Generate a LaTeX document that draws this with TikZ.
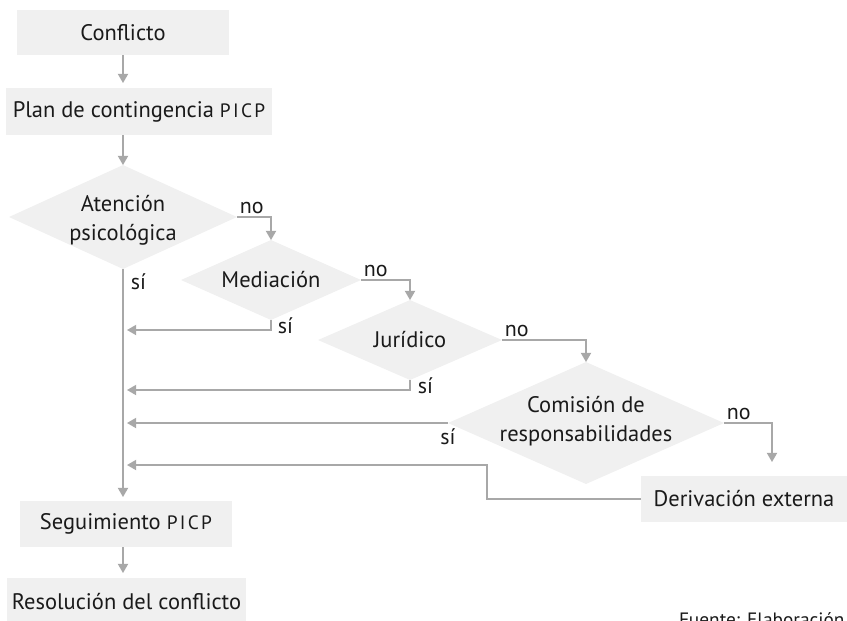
\documentclass[tikz,border=0pt]{standalone}
\usepackage{fontspec}
\setmainfont{PT Sans}
\newfontfamily\capsfont[LetterSpace=12]{PT Sans}
\usepackage{xcolor}
\usepackage{tikz}
\usetikzlibrary{calc,arrows.meta,shapes.geometric}
\definecolor{boxfill}{HTML}{F0F0F0}
\definecolor{linegray}{HTML}{A8A8A8}
\definecolor{inkblack}{HTML}{1A1A1A}
\newcommand{\picp}{{\capsfont\fontsize{11}{12}\selectfont PICP}}
\tikzset{stage/.style={fill=boxfill,inner sep=0pt,outer sep=0pt,text=inkblack,font=\fontsize{12.8}{16}\selectfont},
  decision/.style={diamond,fill=boxfill,inner sep=0pt,outer sep=0pt},
  dtext/.style={align=center,text=inkblack,font=\fontsize{12.8}{16.5}\selectfont},
  lbl/.style={inner sep=1.5pt,text=inkblack,font=\fontsize{12.5}{14}\selectfont},
  conn/.style={linegray,line width=0.75pt,-{Triangle[width=5.8pt,length=5.2pt]}}}

\begin{document}
\begin{tikzpicture}[x=0.02cm,y=-0.02cm]
\useasboundingbox (0,0) rectangle (847,620); \clip (0,0) rectangle (847,620);
\node[stage,minimum width=4.24cm,minimum height=0.9cm] (conf) at (123,32.5) {Conflicto};
\node[stage,minimum width=5.32cm,minimum height=0.94cm] (plan) at (139,111.5) {Plan de contingencia \picp};
\node[decision,minimum width=4.56cm,minimum height=2.08cm] (aten) at (123,217) {}; \node[dtext] (atenT) at (123,220) {Atención\\psicológica};
\node[decision,minimum width=3.6cm,minimum height=1.6cm] (med) at (271,280) {}; \node[dtext] (medT) at (med) {Mediación};
\node[decision,minimum width=3.68cm,minimum height=1.6cm] (jur) at (410,340) {}; \node[dtext] (jurT) at (jur) {Jurídico};
\node[decision,minimum width=5.52cm,minimum height=2.44cm] (com) at (586,423) {}; \node[dtext] (comT) at (586,421) {Comisión de\\responsabilidades};
\node[stage,minimum width=4.12cm,minimum height=0.92cm] (der) at (744,499) {Derivación externa};
\node[stage,minimum width=4.24cm,minimum height=0.92cm] (seg) at (126,524) {Seguimiento \picp};
\node[stage,minimum width=4.78cm,minimum height=0.96cm] (res) at (126.5,602) {Resolución del conflicto};
\node[lbl,anchor=north west,font=\fontsize{11}{12}\selectfont] (fuente) at (676,610) {Fuente: Elaboración};
\draw[conn,shorten >=0.1cm] (conf.south) -- (conf.south |- plan.north);
\draw[conn] (aten.north |- plan.south) -- (aten.north);
\draw[conn] (aten.east) -| (med.north); \draw[conn] (med.east) -| (jur.north); \draw[conn] (jur.east) -| (com.north);
\draw[conn,shorten >=0.28cm] (com.east) -| ($(der.north)+(28,0)$);
\draw[conn,shorten >=0.08cm] (aten.south) -- (aten.south |- seg.north);
\draw[conn,shorten >=0.1cm] (seg.south -| aten.south) -- (aten.south |- res.north);
\draw[conn,shorten >=0.08cm] (med.south) -- ++(0,10) coordinate (medS) -- (medS -| aten.south);
\draw[conn,shorten >=0.08cm] (jur.south) -- ++(0,10) coordinate (jurS) -- (jurS -| aten.south);
\draw[conn,shorten >=0.08cm] (com.west) -- (com.west -| aten.south);
\draw[conn,shorten >=0.08cm] (der.west) -- ++(-154,0) -- ++(0,-34) coordinate (derS) -- (derS -| aten.south);
\node[lbl,anchor=south west] (noA) at (aten.east) {no}; \node[lbl,anchor=south west] (noM) at (med.east) {no};
\node[lbl,anchor=south west] (noJ) at (jur.east) {no}; \node[lbl,anchor=south west] (noC) at (com.east) {no};
\node[lbl,anchor=north west] (siA) at ($(aten.south)+(5,2)$) {sí}; \node[lbl,anchor=west] (siM) at ($(med.south)+(4,6)$) {sí};
\node[lbl,anchor=west] (siJ) at ($(jur.south)+(5,6)$) {sí}; \node[lbl,anchor=north] (siC) at ($(com.west)+(0,3)$) {sí};
\end{tikzpicture}
\end{document}
